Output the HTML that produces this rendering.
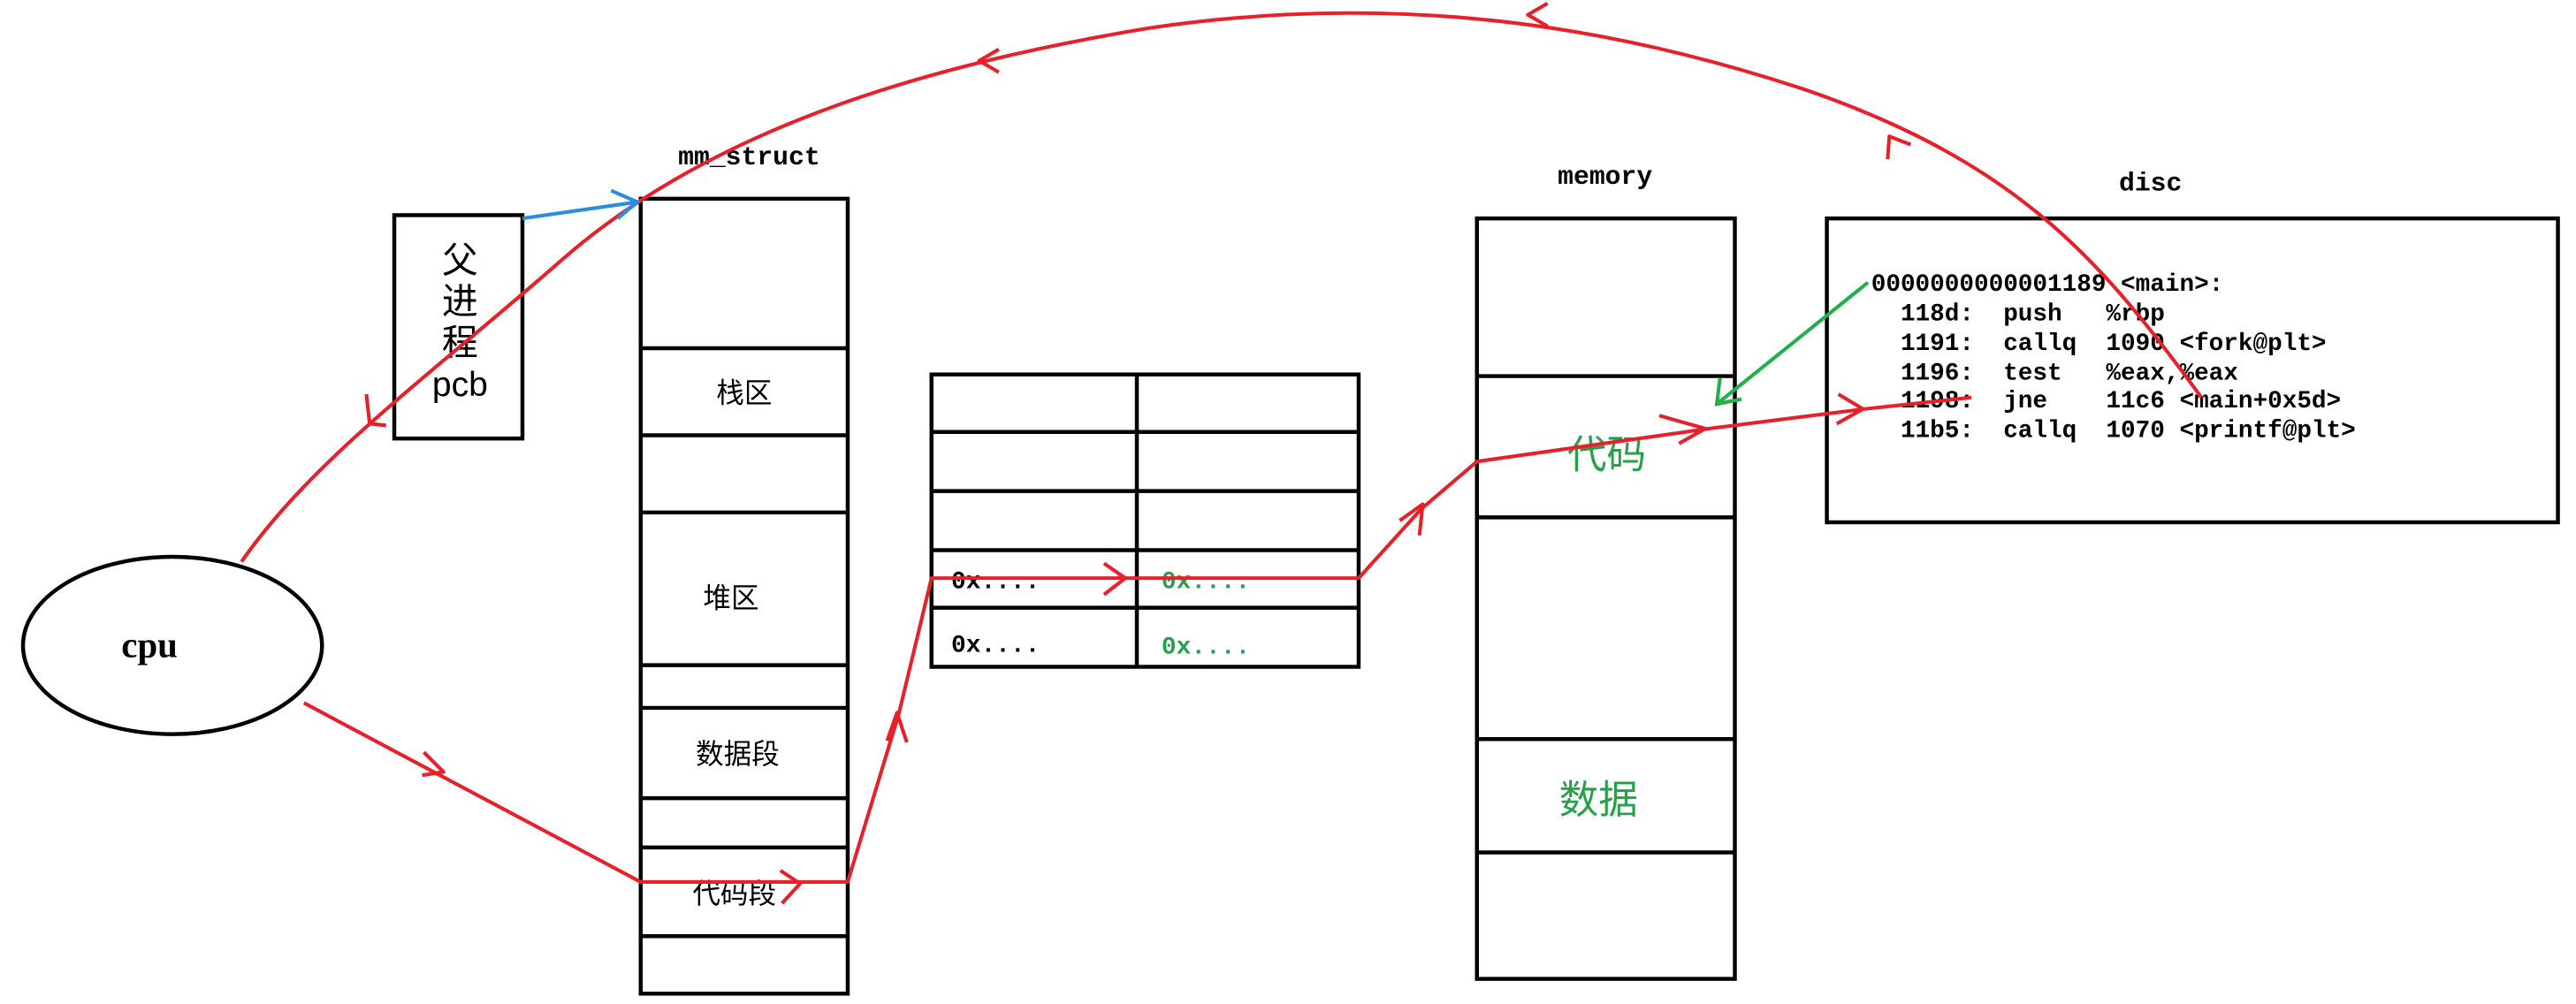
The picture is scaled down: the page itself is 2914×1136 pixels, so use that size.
<!DOCTYPE html>
<html><head><meta charset="utf-8"><style>
html,body{margin:0;padding:0;background:#fff;}
svg{display:block;}
.pre text{white-space:pre;}
</style></head><body>
<svg width="2914" height="1136" viewBox="0 0 1568 611.3" preserveAspectRatio="none" xmlns="http://www.w3.org/2000/svg">
<g fill="none" stroke="#000" stroke-width="2.4">
<ellipse cx="105" cy="393" rx="91" ry="54"/>
<rect x="240" y="131" width="78" height="136"/>
<rect x="390" y="121" width="126" height="484"/>
<path d="M390 212H516M390 265H516M390 312H516M390 405H516M390 431H516M390 486H516M390 516H516M390 570H516"/>
<rect x="567" y="228" width="260" height="178"/>
<path d="M692 228V406M567 263H827M567 299H827M567 335H827M567 370H827"/>
<rect x="899" y="133" width="157" height="463"/>
<path d="M899 229H1056M899 315H1056M899 450H1056M899 519H1056"/>
<rect x="1112" y="133" width="445" height="185"/>
</g>
<g font-family="'Liberation Sans','Noto Sans CJK SC',sans-serif" fill="#000" text-anchor="middle">
<text x="280" y="166" font-size="22">父</text>
<text x="280" y="191" font-size="22">进</text>
<text x="280" y="216" font-size="22">程</text>
<text x="280" y="241" font-size="21">pcb</text>
<text x="453" y="245" font-size="17">栈区</text>
<text x="445" y="370" font-size="17">堆区</text>
<text x="449" y="465" font-size="17">数据段</text>
<text x="447" y="550" font-size="17">代码段</text>
<text x="978" y="285" font-size="24" fill="#27a04a">代码</text>
<text x="973" y="495" font-size="24" fill="#27a04a">数据</text>
</g>
<text x="91" y="400" font-family="'Liberation Serif',serif" font-weight="bold" font-size="22" text-anchor="middle">cpu</text>
<g font-family="'Liberation Mono',monospace" font-weight="bold">
<text x="456" y="100" font-size="16" text-anchor="middle">mm_struct</text>
<text x="977" y="112" font-size="16" text-anchor="middle">memory</text>
<text x="1309" y="116" font-size="16" text-anchor="middle">disc</text>
<text x="579" y="358" font-size="15">0x....</text>
<text x="579" y="397" font-size="15">0x....</text>
<text x="707" y="358" font-size="15" fill="#27a04a">0x....</text>
<text x="707" y="398" font-size="15" fill="#27a04a">0x....</text>
<g font-size="14.9" class="pre">
<text x="1139" y="177">0000000000001189 &lt;main&gt;:</text>
<text x="1139" y="195">  118d:  push   %rbp</text>
<text x="1139" y="213">  1191:  callq  1090 &lt;fork@plt&gt;</text>
<text x="1139" y="231">  1196:  test   %eax,%eax</text>
<text x="1139" y="248">  1198:  jne    11c6 &lt;main+0x5d&gt;</text>
<text x="1139" y="266">  11b5:  callq  1070 &lt;printf@plt&gt;</text>
</g>
</g>
<g fill="none" stroke="#e8202a" stroke-width="2.2" stroke-linejoin="round">
<path d="M185 428L390 537H516L547 435L567 352H827L865 310L899 281L1040 261L1135 249L1200 242"/>
<path d="M258 458L270 470L257 472M475 530L487 538L476 550M540 451L546 434L552 452M672 343L685 352L672 362M852 317L866 307L864 326M1010 253L1038 261L1022 270M1119 240L1134 249L1118 258"/>
<path d="M1340 242C1280 160 1230 100 1100 55C980 15 850 -5 700 17C560 40 430 80 340 160C260 230 190 280 147 342"/>
<path d="M1149 97L1150 83L1163 88M942 2L930 9L942 16M608 30L596 37L608 44M223 240L225 258L235 259"/>
</g>
<g fill="none" stroke-width="2.2">
<path d="M318 133L388 123M372 116L388 123L376 133" stroke="#2a8ee0"/>
<path d="M1137 172L1045 246M1047 230L1045 246L1060 243" stroke="#22b04a"/>
</g>
</svg>
</body></html>
